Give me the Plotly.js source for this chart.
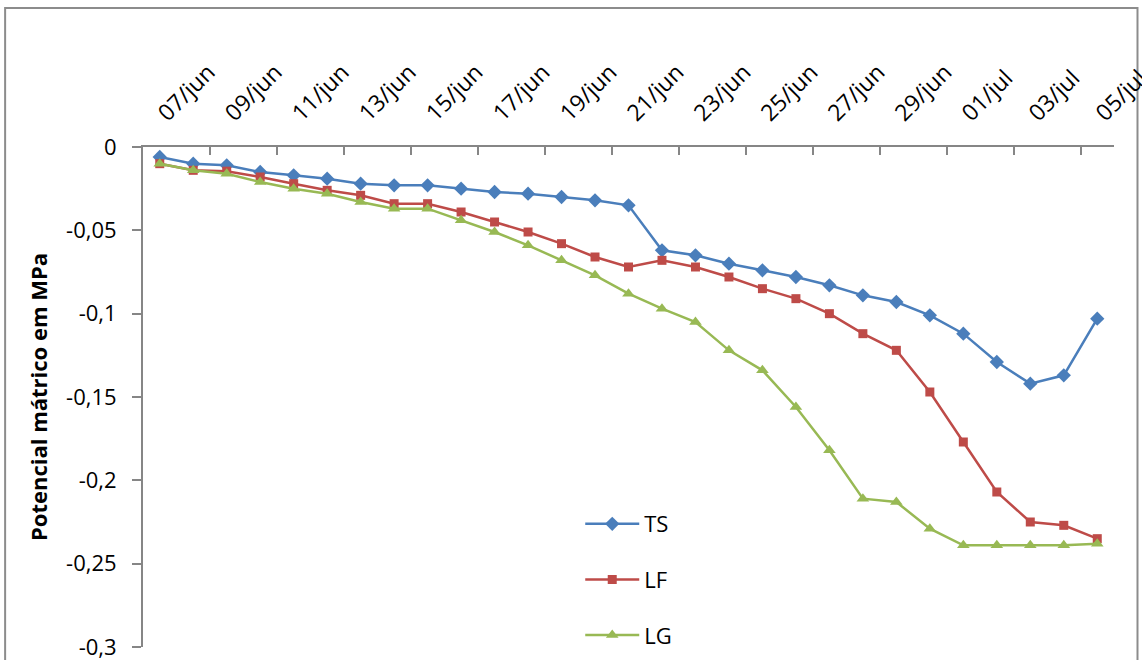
<!DOCTYPE html>
<html>
<head>
<meta charset="utf-8">
<script src="https://cdn.plot.ly/plotly-3.0.1.min.js"></script>
<style>
  html, body { margin: 0; padding: 0; background: #ffffff; }
  #chart { width: 1142px; height: 660px; }
</style>
</head>
<body>
<div id="chart"></div>
<script>
// Daily readings, 07/jun to 05/jul
const dates = [
  '07/jun', '08/jun', '09/jun', '10/jun', '11/jun', '12/jun', '13/jun', '14/jun',
  '15/jun', '16/jun', '17/jun', '18/jun', '19/jun', '20/jun', '21/jun', '22/jun',
  '23/jun', '24/jun', '25/jun', '26/jun', '27/jun', '28/jun', '29/jun', '30/jun',
  '01/jul', '02/jul', '03/jul', '04/jul', '05/jul'
];

// Matric potential (MPa) per treatment
const ts = [-0.006, -0.010, -0.011, -0.015, -0.017, -0.019, -0.022, -0.023, -0.023, -0.025,
            -0.027, -0.028, -0.030, -0.032, -0.035, -0.062, -0.065, -0.070, -0.074, -0.078,
            -0.083, -0.089, -0.093, -0.101, -0.112, -0.129, -0.142, -0.137, -0.103];
const lf = [-0.010, -0.014, -0.0145, -0.018, -0.022, -0.026, -0.029, -0.034, -0.034, -0.039,
            -0.045, -0.051, -0.058, -0.066, -0.072, -0.068, -0.072, -0.078, -0.085, -0.091,
            -0.100, -0.112, -0.122, -0.147, -0.177, -0.207, -0.225, -0.227, -0.235];
const lg = [-0.010, -0.014, -0.016, -0.021, -0.025, -0.028, -0.033, -0.037, -0.037, -0.044,
            -0.051, -0.059, -0.068, -0.077, -0.088, -0.097, -0.105, -0.122, -0.134, -0.156,
            -0.182, -0.211, -0.213, -0.229, -0.239, -0.239, -0.239, -0.239, -0.238];

// Value axis ticks with comma decimals
const yTickVals = [0, -0.05, -0.1, -0.15, -0.2, -0.25, -0.3];
const yTickText = ['0', '-0,05', '-0,1', '-0,15', '-0,2', '-0,25', '-0,3'];

const FONT = 'Open Sans, Lato, sans-serif';
const AXIS_GREY = '#868686';

function series(name, y, color, symbol, size) {
  return {
    type: 'scatter',
    mode: 'lines+markers',
    name: name,
    legendgroup: name,
    x: dates,
    y: y,
    line: { color: color, width: 2.5 },
    marker: { color: color, symbol: symbol, size: size }
  };
}

const traces = [
  series('TS', ts, '#4a7ebb', 'diamond', 11),
  series('LF', lf, '#be4b48', 'square', 9),
  series('LG', lg, '#98b954', 'triangle-up', 11)
];

const layout = {
  width: 1142,
  height: 660,
  margin: { l: 143, r: 27.5, t: 147, b: 13, pad: 0, autoexpand: false },
  paper_bgcolor: '#ffffff',
  plot_bgcolor: '#ffffff',
  font: { family: FONT, size: 22, color: '#000000' },
  showlegend: true,
  legend: {
    x: 0.4503, xanchor: 'left',
    y: 0.288, yanchor: 'top',
    traceorder: 'grouped',
    tracegroupgap: 24,
    itemwidth: 54,
    font: { family: FONT, size: 22, color: '#000000' },
    bgcolor: 'rgba(0,0,0,0)'
  },
  xaxis: {
    type: 'category',
    side: 'top',
    range: [-0.5, 28.5],
    tickmode: 'linear',
    tick0: 0,
    dtick: 2,
    tickson: 'boundaries',
    ticks: 'inside',
    ticklen: 8,
    tickwidth: 2,
    tickcolor: AXIS_GREY,
    tickangle: -45,
    ticklabelstandoff: 10,
    ticklabeloverflow: 'allow',
    showline: true,
    linecolor: AXIS_GREY,
    linewidth: 2,
    showgrid: false,
    zeroline: false,
    automargin: false,
    tickfont: { family: FONT, size: 23, color: '#000000' }
  },
  yaxis: {
    range: [-0.3, 0],
    tickmode: 'array',
    tickvals: yTickVals,
    ticktext: yTickText,
    ticks: 'outside',
    ticklen: 9,
    tickwidth: 2,
    tickcolor: AXIS_GREY,
    ticklabelstandoff: 11,
    ticklabeloverflow: 'allow',
    showline: true,
    linecolor: AXIS_GREY,
    linewidth: 2,
    showgrid: false,
    zeroline: false,
    automargin: false,
    tickfont: { family: FONT, size: 22, color: '#000000' },
    title: {
      text: '<b>Potencial mátrico em MPa</b>',
      font: { family: FONT, size: 22, color: '#000000' },
      standoff: 12
    }
  },
  shapes: [{
    type: 'rect',
    xref: 'paper', yref: 'paper',
    x0: -0.142, x1: 1.0242, y0: -0.2, y1: 1.278,
    line: { color: '#8c8c8c', width: 2 },
    fillcolor: 'rgba(0,0,0,0)',
    layer: 'below'
  }]
};

Plotly.newPlot('chart', traces, layout, { displayModeBar: false, staticPlot: true });
</script>
</body>
</html>
